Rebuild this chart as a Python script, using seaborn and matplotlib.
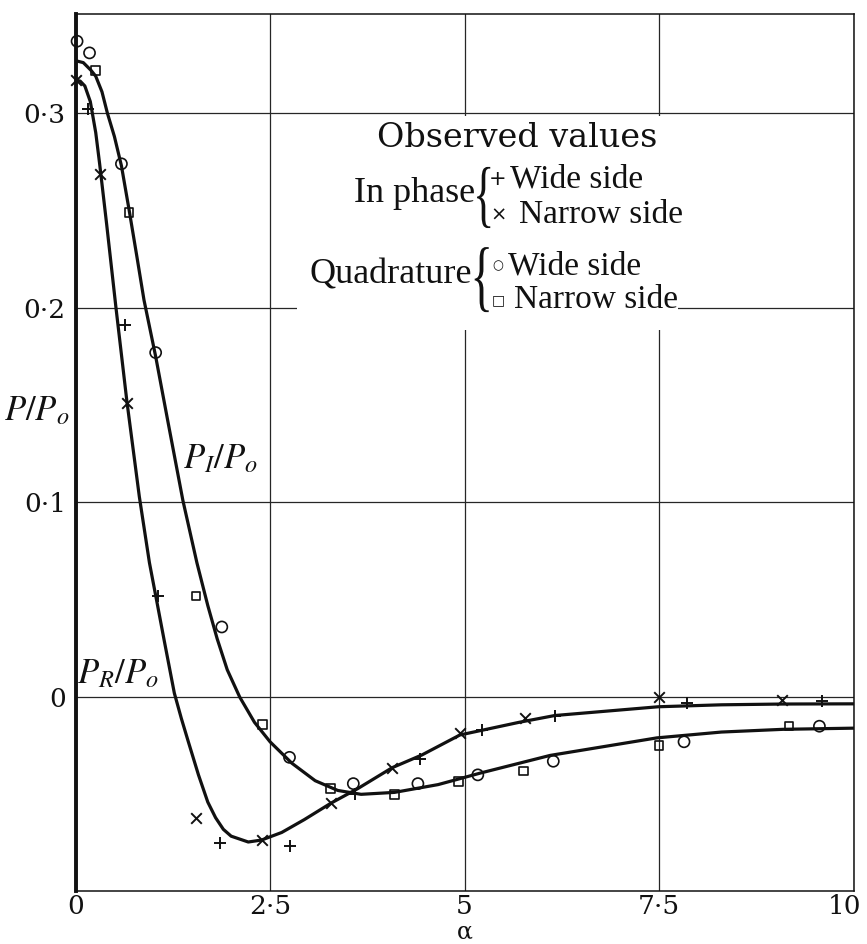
import matplotlib
matplotlib.use("Agg")
import matplotlib.pyplot as plt
import seaborn as sns
from matplotlib.patches import Rectangle, PathPatch
from matplotlib.textpath import TextPath
from matplotlib.font_manager import FontProperties
from matplotlib.transforms import Affine2D, ScaledTranslation

# ---------------- data ----------------
# theoretical curve P_I / P_0
curve_i_alpha = [0.00, 0.10, 0.20, 0.26, 0.34, 0.41, 0.50, 0.59, 0.69, 0.79, 0.88,
                 1.03, 1.19, 1.38, 1.56, 1.70, 1.82, 1.95, 2.11, 2.30, 2.50, 2.78,
                 3.08, 3.37, 3.67, 4.10, 4.66, 5.21, 6.10, 7.47, 8.30, 9.09, 10.0]
curve_i_val = [0.327, 0.326, 0.322, 0.319, 0.311, 0.300, 0.288, 0.273, 0.250, 0.226, 0.204,
               0.175, 0.141, 0.101, 0.069, 0.047, 0.030, 0.014, 0.000, -0.013, -0.023, -0.034,
               -0.043, -0.048, -0.050, -0.049, -0.045, -0.039, -0.030, -0.021, -0.018, -0.0166, -0.016]

# theoretical curve P_R / P_0
curve_r_alpha = [0.00, 0.06, 0.12, 0.19, 0.26, 0.31, 0.40, 0.52, 0.66, 0.82, 0.95,
                 1.05, 1.14, 1.27, 1.36, 1.45, 1.58, 1.70, 1.80, 1.90, 2.00, 2.22,
                 2.39, 2.65, 2.94, 3.28, 3.63, 4.07, 4.45, 4.94, 5.21, 5.70, 6.16,
                 7.49, 8.30, 9.09, 10.0]
curve_r_val = [0.317, 0.3165, 0.314, 0.306, 0.290, 0.274, 0.243, 0.200, 0.152, 0.103, 0.069,
               0.048, 0.029, 0.002, -0.011, -0.023, -0.040, -0.054, -0.062, -0.068, -0.0715, -0.0745,
               -0.0735, -0.0696, -0.063, -0.0546, -0.047, -0.0363, -0.0298, -0.0195, -0.0172, -0.013, -0.0095,
               -0.005, -0.004, -0.0036, -0.0035]

# observed values
inphase_wide_alpha = [0.16, 0.63, 1.06, 1.86, 2.75, 3.59, 4.43, 5.22, 6.16, 7.86, 9.59]
inphase_wide_val = [0.302, 0.191, 0.052, -0.075, -0.0765, -0.050, -0.032, -0.017, -0.010, -0.003, -0.002]

inphase_narrow_alpha = [0.0, 0.31, 0.66, 1.55, 2.40, 3.28, 4.07, 4.94, 5.78, 7.50, 9.08]
inphase_narrow_val = [0.317, 0.269, 0.151, -0.062, -0.0735, -0.0546, -0.0363, -0.0187, -0.0106, 0.0, -0.0015]

quad_wide_alpha = [0.02, 0.18, 0.59, 1.03, 1.88, 2.75, 3.57, 4.40, 5.17, 6.14, 7.82, 9.56]
quad_wide_val = [0.337, 0.331, 0.274, 0.177, 0.036, -0.031, -0.0445, -0.0445, -0.040, -0.033, -0.023, -0.015]

quad_narrow_alpha = [0.26, 0.69, 1.55, 2.40, 3.28, 4.10, 4.92, 5.76, 7.50, 9.17]
quad_narrow_val = [0.322, 0.249, 0.052, -0.014, -0.047, -0.050, -0.0435, -0.038, -0.025, -0.015]

x_ticks = [0, 2.5, 5, 7.5, 10]
x_tick_labels = ["0", "2·5", "5", "7·5", "10"]
y_ticks = [0, 0.1, 0.2, 0.3]
y_tick_labels = ["0", "0·1", "0·2", "0·3"]

# ---------------- style ----------------
sns.set_style("white")
plt.rcParams["font.family"] = ["DejaVu Serif"]
plt.rcParams["mathtext.fontset"] = "stix"

INK = "#111111"

fig = plt.figure(figsize=(8.67, 9.44), dpi=100)
ax = fig.add_axes([0.0871, 0.0561, 0.8975, 0.9291])

# curves
sns.lineplot(x=curve_i_alpha, y=curve_i_val, ax=ax, color=INK, lw=2.3,
             sort=False, estimator=None, zorder=3)
sns.lineplot(x=curve_r_alpha, y=curve_r_val, ax=ax, color=INK, lw=2.3,
             sort=False, estimator=None, zorder=3)

# observed points
sns.scatterplot(x=inphase_wide_alpha, y=inphase_wide_val, ax=ax, marker="+", s=80,
                color=INK, linewidth=1.4, zorder=4, clip_on=False)
sns.scatterplot(x=inphase_narrow_alpha, y=inphase_narrow_val, ax=ax, marker="x", s=58,
                color=INK, linewidth=1.4, zorder=4, clip_on=False)
sns.scatterplot(x=quad_wide_alpha, y=quad_wide_val, ax=ax, marker="o", s=64,
                facecolor="none", edgecolor=INK, linewidth=1.2, zorder=4, clip_on=False)
sns.scatterplot(x=quad_narrow_alpha, y=quad_narrow_val, ax=ax, marker="s", s=38,
                facecolor="none", edgecolor=INK, linewidth=1.2, zorder=4, clip_on=False)

# axes, grid and frame
ax.set_xlim(0, 10)
ax.set_ylim(-0.0997, 0.351)
ax.set_xticks(x_ticks)
ax.set_xticklabels(x_tick_labels)
ax.set_yticks(y_ticks)
ax.set_yticklabels(y_tick_labels)
ax.tick_params(length=0, labelsize=19, colors=INK)
ax.tick_params(axis="x", pad=2)
ax.tick_params(axis="y", pad=7)
# keep the last x label inside the picture, as in the reference
last = ax.get_xticklabels()[-1]
last.set_transform(last.get_transform() + ScaledTranslation(-9 / 100, 0, fig.dpi_scale_trans))

ax.grid(True, color="#262626", lw=0.9)
ax.set_axisbelow(True)
for side in ["top", "right", "bottom"]:
    ax.spines[side].set_color(INK)
    ax.spines[side].set_linewidth(1.1)
ax.spines["left"].set_color(INK)
ax.spines["left"].set_linewidth(2.8)

ax.set_xlabel("α", fontsize=17, color=INK, va="bottom")
ax.xaxis.set_label_coords(0.5, -0.0595)
ax.set_ylabel("$P/P_o$", fontsize=25, rotation=0, color=INK, ha="center", va="center")
ax.yaxis.set_label_coords(-0.0494, 0.5485)

# curve labels
ax.text(1.87, 0.1228, "$P_I/P_o$", fontsize=25, ha="center", va="center", color=INK, zorder=6)
ax.text(0.54, 0.0123, "$P_R/P_o$", fontsize=25, ha="center", va="center", color=INK, zorder=6)

# key block (white panel hides grid lines behind it)
ax.add_patch(Rectangle((2.85, 0.1886), 7.74 - 2.85, 0.2986 - 0.1886,
                       facecolor="white", edgecolor="none", zorder=1.5))

serif = "Liberation Serif"
ax.text(5.67, 0.2826, "Observed values", fontsize=24, family="DejaVu Serif",
        ha="center", va="baseline", color=INK, zorder=6)
ax.text(5.13, 0.2544, "In phase", fontsize=26, family=serif,
        ha="right", va="baseline", color=INK, zorder=6)
ax.text(5.09, 0.2127, "Quadrature", fontsize=26, family=serif,
        ha="right", va="baseline", color=INK, zorder=6)

ax.text(5.43, 0.2662, "+", fontsize=15, family="DejaVu Sans", ha="center", va="center",
        color=INK, zorder=6)
ax.text(5.59, 0.2616, "Wide side", fontsize=24, family=serif, ha="left", va="baseline",
        color=INK, zorder=6)
ax.text(5.43, 0.2477, "×", fontsize=14, family="DejaVu Sans", ha="center", va="center",
        color=INK, zorder=6)
ax.text(5.70, 0.2436, "Narrow side", fontsize=24, family=serif, ha="left", va="baseline",
        color=INK, zorder=6)
ax.text(5.43, 0.2215, "○", fontsize=9, family="DejaVu Sans", ha="center", va="center",
        color=INK, zorder=6)
ax.text(5.56, 0.2169, "Wide side", fontsize=24, family=serif, ha="left", va="baseline",
        color=INK, zorder=6)
ax.text(5.43, 0.2040, "□", fontsize=10, family="DejaVu Sans", ha="center", va="center",
        color=INK, zorder=6)
ax.text(5.63, 0.1999, "Narrow side", fontsize=24, family=serif, ha="left", va="baseline",
        color=INK, zorder=6)


def brace(x0, x1, y0, y1):
    fp = FontProperties(family="Liberation Serif")
    tp = TextPath((0, 0), "{", size=10, prop=fp)
    ext = tp.get_extents()
    tr = (Affine2D().translate(-ext.x0, -ext.y0)
          .scale((x1 - x0) / ext.width, (y1 - y0) / ext.height)
          .translate(x0, y0))
    ax.add_patch(PathPatch(tr.transform_path(tp), transform=ax.transData,
                           facecolor=INK, edgecolor="none", zorder=6))


brace(5.16, 5.33, 0.2410, 0.2724)
brace(5.13, 5.31, 0.1978, 0.2312)

fig.savefig("out.png", dpi=100, facecolor="white")
